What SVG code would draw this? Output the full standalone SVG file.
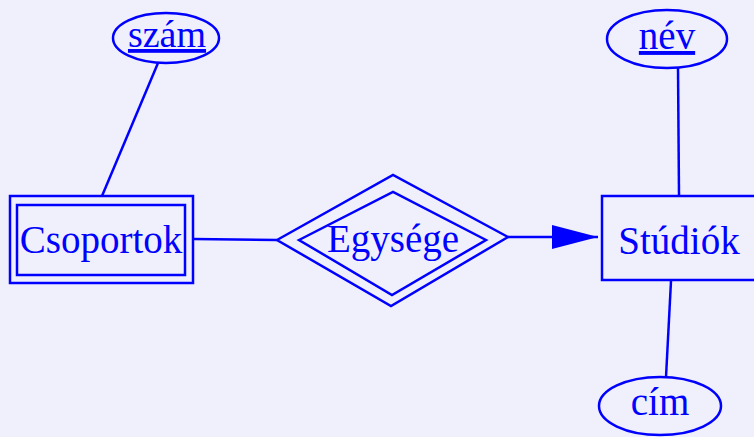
<svg xmlns="http://www.w3.org/2000/svg" width="754" height="437" viewBox="0 0 754 437">
<style>
.s{fill:none;stroke:#0000ff;stroke-width:2.5}
.t{fill:#0000ff;text-anchor:middle}
</style>
<defs>
<marker id="arr" markerUnits="userSpaceOnUse" markerWidth="46" markerHeight="26" refX="46" refY="12" orient="auto">
<path d="M0,0 L46,12 L0,24 Z" fill="#0000ff"/>
</marker>
</defs>
<rect width="754" height="437" fill="#f0f0fc"/>
<g id="connectors">
<line class="s" x1="158" y1="63" x2="102" y2="196"/>
<line class="s" x1="678" y1="68" x2="679" y2="196"/>
<line class="s" x1="671" y1="281" x2="666" y2="377"/>
<line class="s" x1="193" y1="239" x2="277" y2="240"/>
<line class="s" x1="508" y1="237" x2="598" y2="237" marker-end="url(#arr)"/>
</g>
<g id="csoportok">
<rect class="s" x="10" y="196" width="183" height="87"/>
<rect class="s" x="17" y="205" width="168" height="70"/>
<text class="t" x="101" y="253" font-size="39" font-family="'Liberation Serif', 'DejaVu Serif', serif">Csoportok</text>
</g>
<g id="egysege">
<polygon class="s" points="277,240 393,175 508,237 391,306"/>
<polygon class="s" points="299,240 393,192 486,240 392,295"/>
<text class="t" x="393" y="252" font-size="39" font-family="'Liberation Serif', 'DejaVu Serif', serif">Egysége</text>
</g>
<g id="studiok">
<rect class="s" x="602" y="196" width="160" height="84"/>
<text class="t" x="679" y="254" font-size="39" font-family="'Liberation Serif', 'DejaVu Serif', serif">Stúdiók</text>
</g>
<g id="szam">
<ellipse class="s" cx="166" cy="38" rx="53" ry="25"/>
<text class="t" x="167" y="47" font-size="38" font-family="'Liberation Serif', 'DejaVu Serif', serif" text-decoration="underline">szám</text>
</g>
<g id="nev">
<ellipse class="s" cx="667" cy="39" rx="60" ry="29"/>
<text class="t" x="667" y="49" font-size="39" font-family="'Liberation Serif', 'DejaVu Serif', serif" text-decoration="underline">név</text>
</g>
<g id="cim">
<ellipse class="s" cx="660" cy="406" rx="61" ry="29"/>
<text class="t" x="660" y="415" font-size="39" font-family="'Liberation Serif', 'DejaVu Serif', serif">cím</text>
</g>
</svg>
